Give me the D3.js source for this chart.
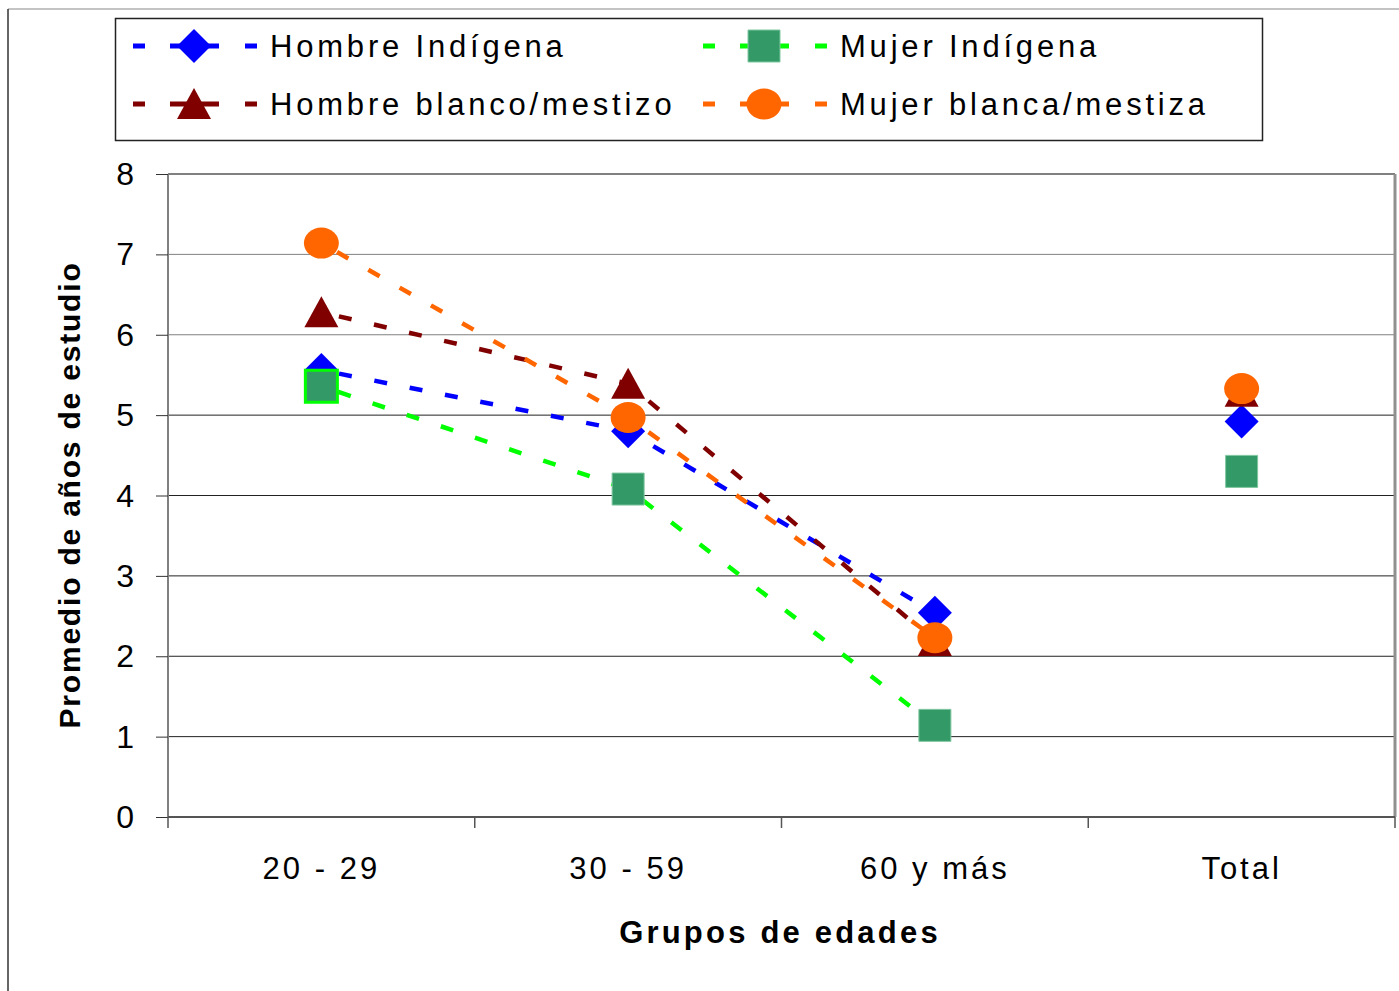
<!DOCTYPE html>
<html>
<head>
<meta charset="utf-8">
<script src="https://cdn.jsdelivr.net/npm/d3@7"></script>
<style>
body { margin: 0; background: #fff; }
svg { display: block; font-family: "Liberation Sans", Arial, sans-serif; }
</style>
</head>
<body>
<svg id="chart" width="1399" height="991"></svg>
<script>
var categories = ["20 - 29", "30 - 59", "60 y más", "Total"];
var seriesNames = ["Hombre Indígena", "Hombre blanco/mestizo", "Mujer Indígena", "Mujer blanca/mestiza"];
var hombreIndigena = [5.56, 4.80, 2.54, 4.92];
var hombreBlanco = [6.28, 5.39, 2.19, 5.29];
var mujerIndigena = [5.36, 4.08, 1.14, 4.30];
var mujerBlanca = [7.14, 4.97, 2.23, 5.33];
var yTicks = [0, 1, 2, 3, 4, 5, 6, 7, 8];

var svg = d3.select("#chart");
var plotLeft = 168, plotRight = 1395, plotTop = 174, plotBottom = 817;

var x = d3.scaleBand().domain(categories).range([plotLeft, plotRight]);
var y = d3.scaleLinear().domain([0, 8]).range([plotBottom, plotTop]);

// series in drawing order
var series = [
    {name: seriesNames[0], values: hombreIndigena, line: "#0000ff", fill: "#0000ff", shape: "diamond"},
    {name: seriesNames[1], values: hombreBlanco, line: "#800000", fill: "#800000", shape: "triangle"},
    {name: seriesNames[2], values: mujerIndigena, line: "#00ff00", fill: "#339966", shape: "square"},
    {name: seriesNames[3], values: mujerBlanca, line: "#ff6600", fill: "#ff6600", shape: "circle"}
];

// outer chart border
svg.append("line").attr("x1", 8).attr("y1", 9).attr("x2", 1399).attr("y2", 9)
    .attr("stroke", "#b0b0b0").attr("stroke-width", 1.5);
svg.append("line").attr("x1", 8).attr("y1", 9).attr("x2", 8).attr("y2", 991)
    .attr("stroke", "#333").attr("stroke-width", 1.5);

// gridlines
svg.append("g").selectAll("line").data(yTicks.slice(1)).enter().append("line")
    .attr("x1", plotLeft).attr("x2", plotRight)
    .attr("y1", d => y(d)).attr("y2", d => y(d))
    .attr("stroke", d => d >= 6 ? "#808080" : "#222")
    .attr("stroke-width", d => d == 8 ? 2 : 1);

// plot border (left, right)
svg.append("line").attr("x1", plotLeft).attr("x2", plotLeft).attr("y1", plotTop).attr("y2", plotBottom)
    .attr("stroke", "#808080").attr("stroke-width", 2);
svg.append("line").attr("x1", plotRight).attr("x2", plotRight).attr("y1", plotTop).attr("y2", plotBottom)
    .attr("stroke", "#909090").attr("stroke-width", 3);

// y axis
var yAxis = svg.append("g").attr("transform", "translate(" + plotLeft + ",0)")
    .call(d3.axisLeft(y).tickValues(yTicks).tickSize(12).tickPadding(22).tickFormat(d3.format("d")));
yAxis.select(".domain").remove();
yAxis.selectAll(".tick line").attr("stroke", "#333");
yAxis.selectAll("text").attr("font-size", 32).attr("fill", "#000").attr("dy", "0.33em")
    .attr("font-family", "'Liberation Sans', Arial, sans-serif");

// x axis
svg.append("line").attr("x1", plotLeft).attr("x2", plotRight).attr("y1", plotBottom).attr("y2", plotBottom)
    .attr("stroke", "#555").attr("stroke-width", 2);
var bounds = categories.map(c => x(c)).concat([plotRight]);
svg.append("g").selectAll("line").data(bounds).enter().append("line")
    .attr("x1", d => d).attr("x2", d => d).attr("y1", plotBottom).attr("y2", plotBottom + 11)
    .attr("stroke", "#555").attr("stroke-width", 1.5);
svg.append("g").selectAll("text").data(categories).enter().append("text")
    .attr("x", d => x(d) + x.bandwidth() / 2).attr("y", 879)
    .attr("text-anchor", "middle").attr("font-size", 31).attr("letter-spacing", 3)
    .text(d => d);

// axis titles
svg.append("text").attr("x", 780).attr("y", 943).attr("text-anchor", "middle")
    .attr("font-size", 31).attr("font-weight", "bold").attr("letter-spacing", 3.2)
    .text("Grupos de edades");
svg.append("text").attr("transform", "translate(80,495) rotate(-90)")
    .attr("text-anchor", "middle").attr("font-size", 30).attr("font-weight", "bold")
    .attr("letter-spacing", 1.8)
    .text("Promedio de años de estudio");

function markerPath(shape) {
    if (shape == "diamond") return "M0,-17L17,0L0,17L-17,0Z";
    if (shape == "triangle") return "M0,-16L17,15L-17,15Z";
    if (shape == "square") return "M-16,-16H16V16H-16Z";
    return d3.symbol().type(d3.symbolCircle).size(Math.PI * 17 * 16)();
}

// lines (Total stays unconnected)
var line = d3.line()
    .x((d, i) => x(categories[i]) + x.bandwidth() / 2)
    .y(d => y(d));

series.forEach(function(s) {
    svg.append("path")
        .attr("d", line(s.values.slice(0, 3)))
        .attr("fill", "none")
        .attr("stroke", s.line)
        .attr("stroke-width", 4.5)
        .attr("stroke-dasharray", "13,23")
        .attr("stroke-dashoffset", -18);
});

series.forEach(function(s) {
    svg.append("g").selectAll("path").data(s.values).enter().append("path")
        .attr("transform", (d, i) => "translate(" + (x(categories[i]) + x.bandwidth() / 2) + "," + y(d) + ")" +
              (s.shape == "circle" ? " scale(1.06,0.94)" : ""))
        .attr("d", markerPath(s.shape))
        .attr("fill", s.fill)
        .attr("stroke", (d, i) => s.shape == "square" ? (i == 0 ? "#00ff00" : "#7fc7a0") : "none")
        .attr("stroke-width", (d, i) => s.shape == "square" && i == 0 ? 3 : 1);
});

// legend
svg.append("rect").attr("x", 115.5).attr("y", 18.5).attr("width", 1147).attr("height", 122)
    .attr("fill", "#fff").attr("stroke", "#222").attr("stroke-width", 1.5);

var legendPos = [[133, 46], [133, 104], [703, 46], [703, 104]];
var leg = svg.append("g").selectAll("g").data(series).enter().append("g")
    .attr("transform", (d, i) => "translate(" + legendPos[i][0] + "," + legendPos[i][1] + ")");
leg.append("line").attr("x1", 0).attr("x2", 124).attr("y1", 0).attr("y2", 0)
    .attr("stroke", d => d.line).attr("stroke-width", 5)
    .attr("stroke-dasharray", "12,25,49,26,12");
leg.append("path").attr("d", d => markerPath(d.shape))
    .attr("transform", d => "translate(61,0)" + (d.shape == "circle" ? " scale(1.06,0.94)" : ""))
    .attr("fill", d => d.fill)
    .attr("stroke", d => d.shape == "square" ? "#7fc7a0" : "none");
leg.append("text").attr("x", 137).attr("y", 11)
    .attr("font-size", 31).attr("letter-spacing", 3.8)
    .text(d => d.name);
</script>
</body>
</html>
